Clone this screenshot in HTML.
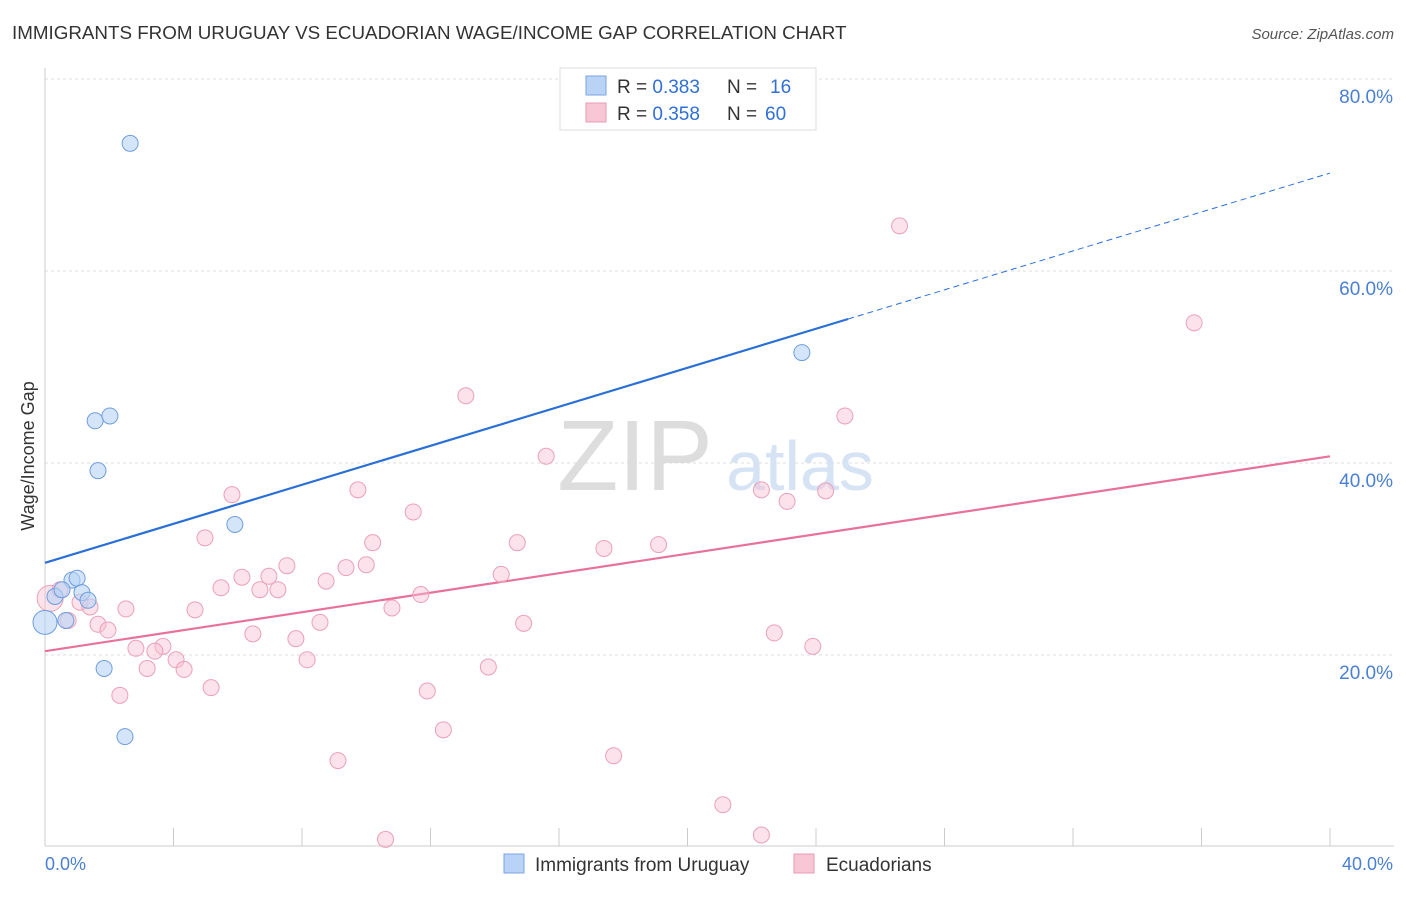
<!DOCTYPE html>
<html><head><meta charset="utf-8"><style>
body{margin:0;background:#fff;font-family:"Liberation Sans",sans-serif}
svg text{font-family:"Liberation Sans",sans-serif}
</style></head><body>
<svg width="1406" height="892" xmlns="http://www.w3.org/2000/svg">
<text x="12" y="39" font-size="18.8" fill="#333">IMMIGRANTS FROM URUGUAY VS ECUADORIAN WAGE/INCOME GAP CORRELATION CHART</text>
<text x="1394" y="39" font-size="15" fill="#555" font-style="italic" text-anchor="end">Source: ZipAtlas.com</text>
<g id="grid"></g>
<text x="635" y="490" font-size="100" fill="#ddd" font-family="Liberation Serif" text-anchor="middle">ZIP</text>
<text x="800" y="490" font-size="70" fill="#d5e3f5" text-anchor="middle">atlas</text>
<line x1="45" y1="68" x2="45" y2="846" stroke="#ccc"/>
<line x1="45" y1="846" x2="1394" y2="846" stroke="#ccc"/>
<g id="ticks"></g>
<g id="ylabels"></g>
<text x="45" y="870" font-size="18" fill="#4a7fd4">0.0%</text>
<text x="1393" y="870" font-size="18" fill="#4a7fd4" text-anchor="end">40.0%</text>
<text transform="translate(34,456) rotate(-90)" font-size="18" fill="#333" text-anchor="middle">Wage/Income Gap</text>
<g id="trends"></g>
<g id="pts"></g>
<g>
<rect x="560" y="68" width="256" height="62" fill="#fff" stroke="#ddd"/>
<rect x="586" y="76" width="20" height="19" fill="#b8d3f5" stroke="#7aa6e0"/>
<rect x="586" y="103" width="20" height="19" fill="#f9c6d6" stroke="#eb9ab5"/>
<text x="617" y="93" font-size="19" fill="#333">R = <tspan fill="#2f6fd6">0.383</tspan><tspan x="727">N = </tspan><tspan x="770" fill="#2f6fd6">16</tspan></text>
<text x="617" y="120" font-size="19" fill="#333">R = <tspan fill="#2f6fd6">0.358</tspan><tspan x="727">N = </tspan><tspan x="765" fill="#2f6fd6">60</tspan></text>
</g>
<g>
<rect x="504" y="854" width="20" height="19" fill="#b8d3f5" stroke="#7aa6e0"/>
<text x="535" y="871" font-size="19" fill="#333">Immigrants from Uruguay</text>
<rect x="794" y="854" width="20" height="19" fill="#f9c6d6" stroke="#eb9ab5"/>
<text x="826" y="871" font-size="19" fill="#333">Ecuadorians</text>
</g>
</svg>
<script>
const blueX=[2.65,2.02,1.56,1.65,5.91,23.56,0.84,1.0,0.31,0.53,1.15,1.34,0.65,0,1.84,2.49];
const blueY=[73.3,44.9,44.4,39.2,33.6,51.5,27.8,28.0,26.1,26.8,26.5,25.7,23.6,23.4,18.6,11.5];
const pinkX=[26.6,35.77,13.1,24.9,15.6,5.82,9.74,22.3,23.1,24.3,11.46,4.98,10.2,14.7,17.4,19.1,7.53,9.37,10.0,6.13,6.97,14.2,8.75,5.48,6.69,7.25,11.7,0.16,0.47,1.09,1.4,2.52,4.67,10.8,0.72,1.65,1.96,8.56,14.9,6.47,22.7,7.81,2.83,3.67,3.42,4.08,8.16,3.18,4.33,13.8,23.9,5.17,2.33,11.9,12.4,9.12,17.7,21.1,10.6,22.3];
const pinkY=[64.7,54.6,47.0,44.9,40.7,36.7,37.2,37.2,36.0,37.1,34.9,32.2,31.7,31.7,31.1,31.5,29.3,29.1,29.4,28.1,28.2,28.4,27.7,27.0,26.8,26.8,26.3,25.9,26.8,25.5,25.0,24.8,24.7,24.9,23.6,23.2,22.6,23.4,23.3,22.2,22.3,21.7,20.7,20.9,20.4,19.5,19.5,18.6,18.5,18.75,20.9,16.6,15.8,16.25,12.2,9.0,9.5,4.4,0.8,1.25];
const yTicks=[20,40,60,80];
const yTickLabels=["20.0%","40.0%","60.0%","80.0%"];
const xTicks=[0,4,8,12,16,20,24,28,32,36,40];
const blueTrend=[[0,29.6],[25,55.0],[40,70.2]];
const pinkTrend=[[0,20.4],[40,40.7]];
const NS="http://www.w3.org/2000/svg";
const sx=v=>45+v*32.125, sy=v=>847-v*9.6;
function mk(t,a,p){const e=document.createElementNS(NS,t);for(const k in a)e.setAttribute(k,a[k]);p.appendChild(e);return e;}
const grid=document.getElementById('grid'),yl=document.getElementById('ylabels');
yTicks.forEach((v,i)=>{
 const l=mk('line',{x1:45,x2:1394,y1:sy(v),y2:sy(v),stroke:'#ddd','stroke-dasharray':'3,3'},grid);
 
 
 const t=mk('text',{x:1393,y:sy(v)+24,'font-size':19,fill:'#4a7fd4','text-anchor':'end'},yl);
 t.textContent=yTickLabels[i];
 
 
});
const tk=document.getElementById('ticks');
xTicks.forEach(v=>{const l=mk('line',{x1:sx(v),x2:sx(v),y1:828,y2:846,stroke:'#ccc'},tk);
 
 });
const tr=document.getElementById('trends');
let b1=mk('line',{x1:sx(blueTrend[0][0]),y1:sy(blueTrend[0][1]),x2:sx(blueTrend[1][0]),y2:sy(blueTrend[1][1]),stroke:'#2a6fd6','stroke-width':2.2},tr);


let b2=mk('line',{x1:sx(blueTrend[1][0]),y1:sy(blueTrend[1][1]),x2:sx(blueTrend[2][0]),y2:sy(blueTrend[2][1]),stroke:'#2a6fd6','stroke-width':1,'stroke-dasharray':'6,4'},tr);


let p1=mk('line',{x1:sx(pinkTrend[0][0]),y1:sy(pinkTrend[0][1]),x2:sx(pinkTrend[1][0]),y2:sy(pinkTrend[1][1]),stroke:'#e8719a','stroke-width':2.2},tr);


const pts=document.getElementById('pts');
pinkX.forEach((x,i)=>{const c=mk('circle',{cx:sx(x),cy:sy(pinkY[i]),r:i==27?13:8,fill:'rgba(248,190,208,0.45)',stroke:'#eba0b9','stroke-width':1},pts);
 
 });
blueX.forEach((x,i)=>{const c=mk('circle',{cx:sx(x),cy:sy(blueY[i]),r:i==13?12:8,fill:'rgba(184,211,245,0.6)',stroke:'#6f9ede','stroke-width':1},pts);
 
 });
</script>
</body></html>
